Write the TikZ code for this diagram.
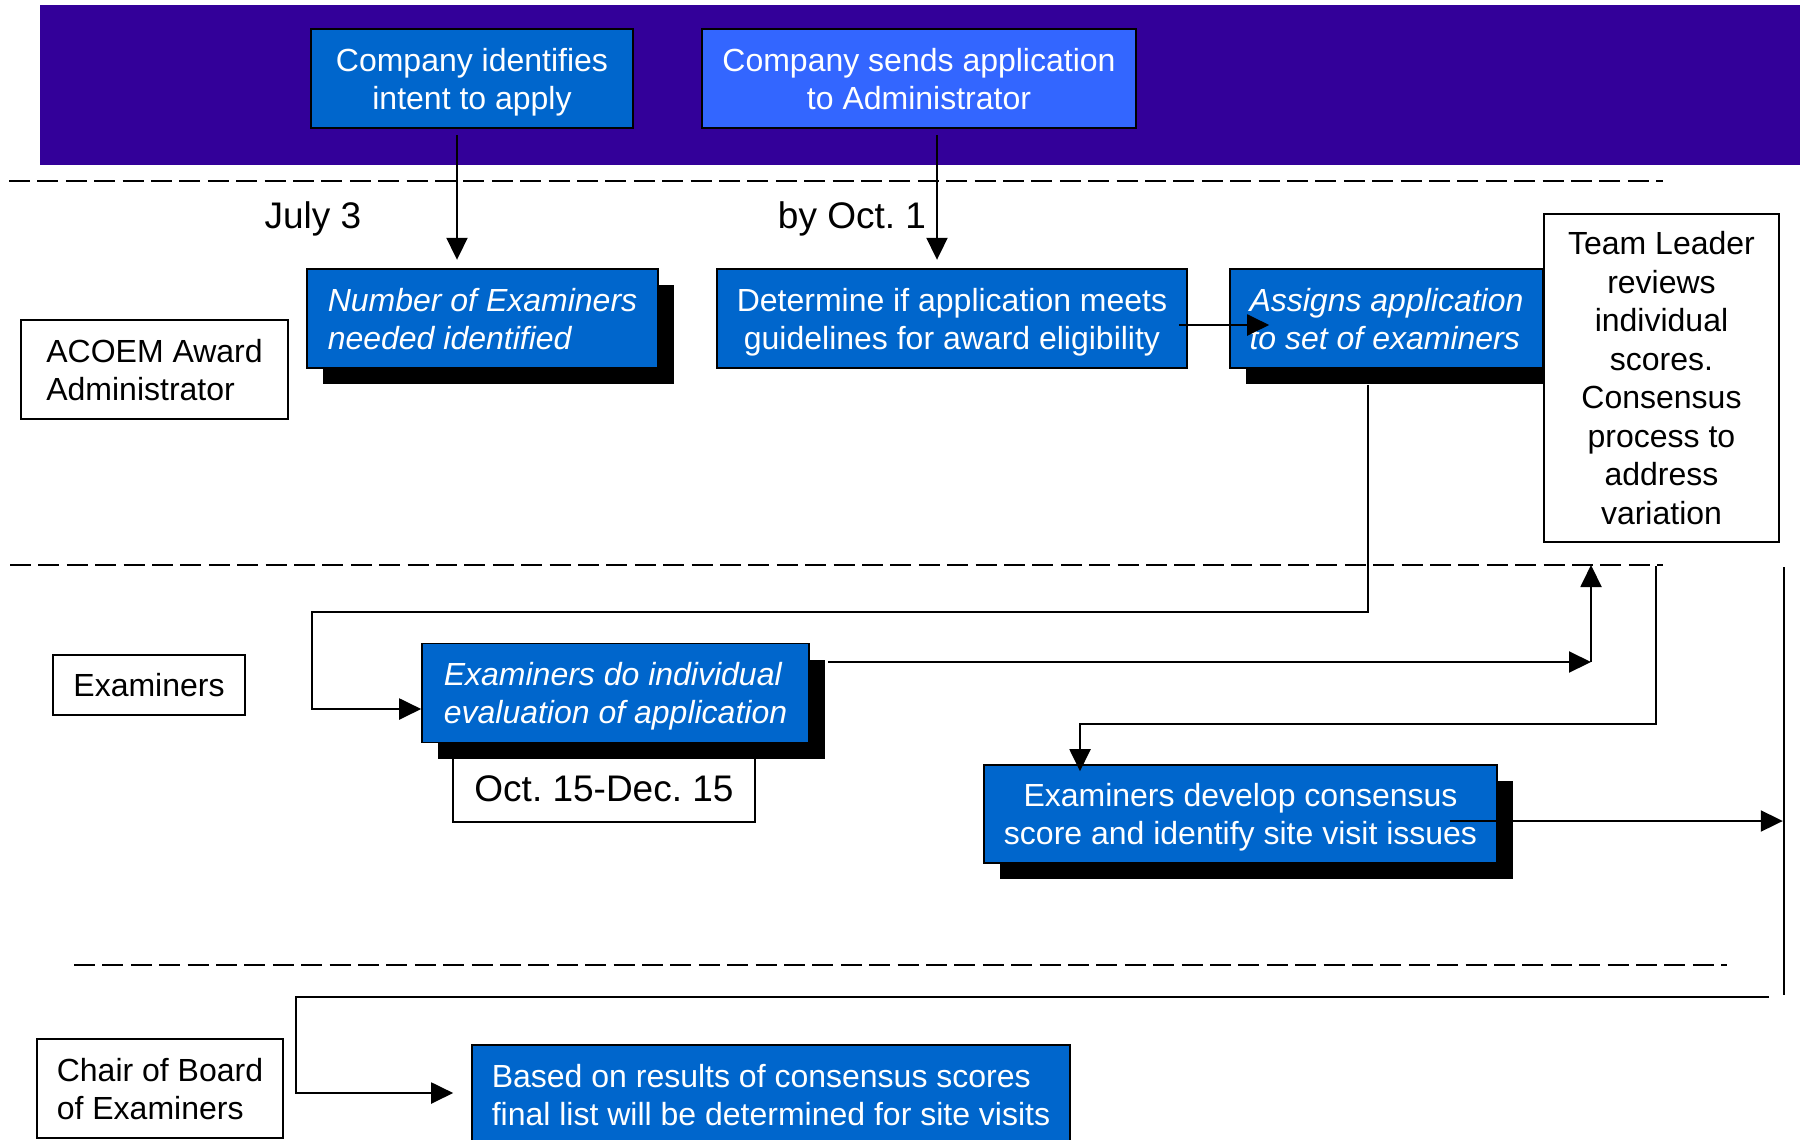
\documentclass[tikz,border=0pt]{standalone}
\usepackage{fontspec}
\setmainfont{Liberation Sans}
\usetikzlibrary{arrows.meta,shadows,calc}

\definecolor{bandpurple}{HTML}{330099}
\definecolor{stepblue}{HTML}{0066CC}
\definecolor{sendblue}{HTML}{3366FF}

\tikzset{
  lanebox/.style={draw, line width=1pt, fill=white, align=left, text depth=0pt, font=\fontsize{16}{19}\selectfont},
  taskbox/.style={draw, line width=0.8pt, fill=stepblue, text=white, align=center, text depth=0pt,
    minimum height=49.5pt, font=\fontsize{16}{19}\selectfont},
  slanted/.style={align=left, font=\fontsize{16}{19}\selectfont\itshape},
  shadowed/.style={drop shadow={shadow xshift=8pt, shadow yshift=-8pt, fill=black, opacity=1}},
  datelabel/.style={font=\fontsize{18.5}{22}\selectfont},
  link/.style={line width=1pt, -{Triangle[length=11pt,width=10.5pt]}},
  lanesep/.style={line width=1.3pt, dash pattern=on 10.5pt off 3.7pt},
}

\begin{document}
\frenchspacing
\begin{tikzpicture}[x=0.5pt, y=-0.5pt]
  \useasboundingbox (0,0) rectangle (1804,1140);

  % company band and swimlane separators
  \fill[bandpurple] (40,5) rectangle (1800,165);
  \draw[lanesep] (9,181) -- (1663,181);
  \draw[lanesep] (10,565) coordinate (sepB) -- (1663,565);
  \draw[lanesep] (74,965) -- (1727,965);

  % company
  \node[taskbox, minimum width=161pt] (intent) at (472,78.5) {Company identifies\\intent to apply};
  \node[taskbox, fill=sendblue, minimum width=217pt] (sends) at (919,78.5) {Company sends application\\to Administrator};

  % administrator
  \node[datelabel] (july) at (313,219) {July 3};
  \node[datelabel] (byoct) at (852,219) {by Oct. 1};
  \node[lanebox, minimum width=133.5pt, minimum height=49.5pt] (acoem) at (154.5,369.5) {ACOEM Award\\Administrator};
  \node[taskbox, slanted, shadowed, minimum width=175.5pt] (numex) at (482.5,318.5) {Number of Examiners\\needed identified};
  \node[taskbox, minimum width=235pt] (det) at (952,318.5) {Determine if application meets\\guidelines for award eligibility};
  \node[taskbox, slanted, shadowed, minimum width=156.5pt] (asg) at (1386.5,318.5) {Assigns application\\to set of examiners};
  \node[lanebox, align=center, font=\fontsize{16}{19.25}\selectfont, minimum width=117.5pt, minimum height=164pt] (team) at (1661.5,378)
    {Team Leader\\reviews\\individual\\scores.\\Consensus\\process to\\address\\variation};

  % examiners
  \node[lanebox, minimum width=96pt, minimum height=30pt] (exlbl) at (149,685) {Examiners};
  \node[lanebox, datelabel, minimum width=151pt, minimum height=33pt] (octdec) at (604,789) {Oct. 15-Dec. 15};
  \node[taskbox, slanted, shadowed, minimum width=193.5pt] (indiv) at (615.5,693) {Examiners do individual\\evaluation of application};
  \node[taskbox, shadowed, minimum width=256.5pt, minimum height=49pt] (cons) at (1240.5,814) {Examiners develop consensus\\score and identify site visit issues};

  % chair
  \node[lanebox, minimum width=123pt, minimum height=49.5pt] (chair) at (160,1088.5) {Chair of Board\\of Examiners};
  \node[taskbox, align=left, minimum width=299pt] (final) at (771,1094.5) {Based on results of consensus scores\\final list will be determined for site visits};

  % flow
  \draw[link] ($(intent.south)+(-15,6)$) -- ($(intent.south)+(-15,131)$);
  \draw[link] ($(sends.south)+(18,6)$) -- ($(sends.south)+(18,131)$);
  \draw[link] ($(det.east)+(-9,6.5)$) -- ($(asg.west)+(40,6.5)$);
  \draw[link] ($(asg.south)+(-18.5,16)$) |- (312,612) |- ($(indiv.west)+(0,16)$);
  \coordinate (upturn) at (1591,662);
  \draw[link] ($(indiv.east)+(18,-31)$) -- (upturn);
  \draw[link] (upturn) -- (upturn |- sepB);
  \draw[link] ($(team.south)+(-5.5,23)$) |- ($(cons.north)+(-160.5,-40)$) -- ($(cons.north)+(-160.5,7)$);
  \draw[link] ($(cons.east)+(-48,7)$) -- ($(cons.east)+(285,7)$);
  \coordinate (rtop) at (1784,567);
  \coordinate (rbot) at (1784,995);
  \draw[line width=1pt] (rtop) -- (rbot);
  \coordinate (fromright) at (1769,997);
  \draw[link] (fromright) -| ($(final.west)+(-175,-1.5)$) -- ($(final.west)+(-18,-1.5)$);
\end{tikzpicture}
\end{document}
